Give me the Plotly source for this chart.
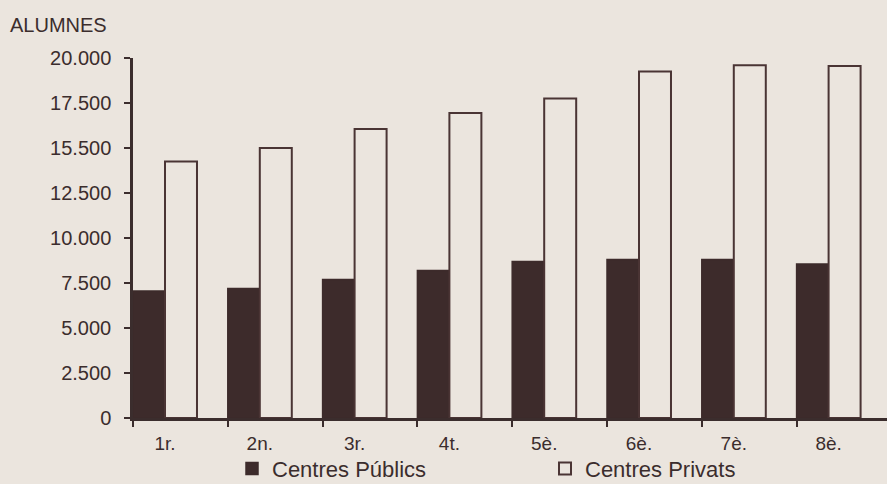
import plotly.graph_objects as go

categories = ["1r.", "2n.", "3r.", "4t.", "5è.", "6è.", "7è.", "8è."]
publics = [7050, 7200, 7700, 8200, 8700, 8800, 8800, 8550]
privats = [14250, 15000, 16050, 16950, 17750, 19250, 19600, 19550]
y_tickvals = [0, 2500, 5000, 7500, 10000, 12500, 15000, 17500, 20000]
y_ticktext = ["0", "2.500", "5.000", "7.500", "10.000", "12.500", "15.500", "17.500", "20.000"]

BG = "#ebe5de"
INK = "#3b2d2d"
DARK = "#3d2b2b"
FONT = "Liberation Sans, Arial, sans-serif"

xpos = list(range(len(categories)))
half_group = 0.3375

fig = go.Figure()
fig.add_trace(go.Bar(
    x=xpos, y=publics, name="Centres Públics",
    marker=dict(color=DARK, line=dict(color=DARK, width=1.5)),
    legend="legend",
))
fig.add_trace(go.Bar(
    x=xpos, y=privats, name="Centres Privats",
    marker=dict(color=BG, line=dict(color="#4a3434", width=2)),
    legend="legend2",
))

fig.update_layout(
    width=887, height=484,
    margin=dict(l=133, r=0, t=58, b=66, autoexpand=False),
    paper_bgcolor=BG, plot_bgcolor=BG,
    barmode="group", bargap=1 - 2 * half_group, bargroupgap=0,
    font=dict(family=FONT, color=INK, size=19),
    showlegend=True,
    legend=dict(orientation="h", x=(232 - 133) / 754, xanchor="left",
                y=-0.141, yanchor="middle", font=dict(size=22, color=INK),
                bgcolor="rgba(0,0,0,0)"),
    legend2=dict(orientation="h", x=(545 - 133) / 754, xanchor="left",
                 y=-0.141, yanchor="middle", font=dict(size=22, color=INK),
                 bgcolor="rgba(0,0,0,0)"),
    annotations=[dict(text="ALUMNES", xref="paper", yref="paper",
                      x=(8 - 133) / 754, y=(418 - 24.5) / 360,
                      xanchor="left", yanchor="middle", showarrow=False,
                      font=dict(size=20, color=INK, family=FONT))],
)

fig.update_xaxes(
    range=[-half_group, -half_group + 754 / 94.8],
    tickmode="array", tickvals=xpos, ticktext=categories,
    ticks="", showgrid=False, zeroline=False,
    showline=True, linecolor=INK, linewidth=2.5,
    ticklabelstandoff=6,
    tickfont=dict(size=19, color=INK),
    minor=dict(tickmode="array", tickvals=[i - half_group for i in xpos],
               ticks="outside", ticklen=6, tickwidth=2, tickcolor=INK,
               showgrid=False),
)
fig.update_yaxes(
    range=[0, 20000],
    tickmode="array", tickvals=y_tickvals, ticktext=y_ticktext,
    ticks="outside", ticklen=6, tickwidth=2, tickcolor=INK,
    showgrid=False, zeroline=False,
    showline=True, linecolor=INK, linewidth=2.5,
    ticklabelstandoff=9,
    tickfont=dict(size=20, color=INK),
)

fig.write_html(
    "out.html",
    config={"displayModeBar": False},
    post_script="document.body.style.margin='0';document.body.style.padding='0';"
                "document.body.style.overflow='hidden';"
                "document.documentElement.style.background='" + BG + "';",
)
